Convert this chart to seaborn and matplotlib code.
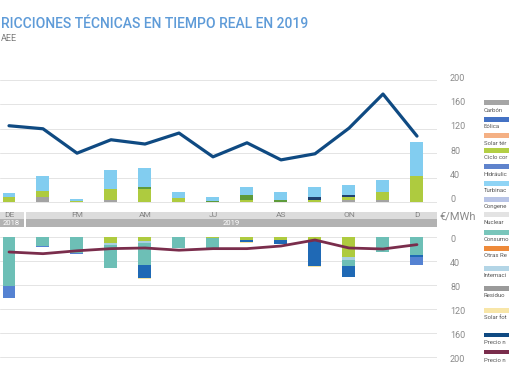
import matplotlib
matplotlib.use("Agg")
import matplotlib.pyplot as plt
import matplotlib.transforms as mtransforms
from matplotlib.patches import Rectangle
import numpy as np
import seaborn as sns

# periodo: diciembre 2018 a diciembre 2019
meses = ["D", "E", "F", "M", "A", "M", "J", "J", "A", "S", "O", "N", "D"]
etiquetas = ["DE", "", "FM", "", "AM", "", "JJ", "", "AS", "", "ON", "", "D"]

# energia a subir (apilado de abajo a arriba)
subir_carbon = [0, 7.6, 0, 3.8, 0, 0, 0, 0, 0, 0, 2.7, 3.8, 0]
subir_ciclo = [7.7, 11, 1.6, 17.5, 20.8, 6.6, 0, 3.8, 0, 3.3, 5.5, 12.6, 42.6]
subir_verde_osc = [0, 0, 0, 0, 3.8, 0, 2.2, 8.2, 3.8, 0, 0, 0, 0]
subir_eolica = [0, 0, 0, 0, 0, 0, 0, 0, 0, 4.9, 3.8, 0, 0]
subir_turbinacion = [7, 23.5, 3.8, 31.7, 31.7, 9.3, 6, 13, 13, 16.4, 16.4, 19, 55.7]

# energia a bajar (apilado de 0 hacia abajo)
bajar_ciclo = [0, 0, 0, 10, 7.2, 0, 1, 4.4, 5.5, 5.5, 33, 0, 0]
bajar_intercon = [0, 0, 0, 3, 2.8, 0, 0, 0, 0, 0, 5.5, 0, 0]
bajar_consumo = [81.7, 15.5, 26.7, 38.7, 36, 18.3, 17.3, 0, 0, 0, 10, 25, 30.5]
bajar_eolica = [0, 0, 0, 0, 22, 0, 0, 4, 5.5, 43, 17.8, 0, 2.8]
bajar_hidraulica = [19.4, 0.8, 2.2, 0, 0, 0, 0, 0, 0, 0, 0, 0, 12.8]
bajar_solar_fv = [0, 0, 0, 0, 1.7, 0, 0, 2, 1, 1.7, 0, 0, 0]

precio_subir = [125, 120, 80, 102, 95, 113, 74, 97, 69, 79, 121, 177, 108]
precio_bajar = [25, 27.8, 23, 19.4, 18.3, 22, 19.4, 19.4, 15, 5, 18.3, 20, 12.7]

# textos de la leyenda tal como se ven (cortados por el borde derecho)
leyenda_nombres = ["Carbón", "Eólica", "Solar tér", "Ciclo cor", "Hidráulic",
                   "Turbinac", "Congene", "Nuclear", "Consumo",
                   "Otras Re", "Internaci", "Residuo", "Solar fot"]
leyenda_colores = ["#A5A5A5", "#4472C4", "#F4B084", "#B3CF45", "#5F83CC", "#8FD4F5",
                   "#B8C4E6", "#E3E3E3", "#79C6BB", "#EE8A3A", "#B3D5E6", "#9A9A9A", "#F8E6A8"]
lineas_nombres = ["Precio n", "Precio n"]

NAVY = "#0F4A82"
GRANATE = "#7A2D4C"

sns.set_theme(style="white")
plt.rcParams["font.family"] = ["Roboto", "DejaVu Sans"]

W, H = 510, 382
fig = plt.figure(figsize=(W / 100, H / 100), dpi=100)


def caja(x0, y0, x1, y1):
    # pixeles -> fraccion de figura
    return [x0 / W, 1 - y1 / H, (x1 - x0) / W, (y1 - y0) / H]


idx = np.arange(len(meses))
xlim = (-9 / 34, (437 - 9) / 34)
ancho = 13 / 34


def apilar(ax, capas):
    # se dibuja de la suma total hacia abajo para que cada capa tape a la anterior
    cum = np.cumsum([np.array(v, dtype=float) for v, c in capas], axis=0)
    for k in range(len(capas) - 1, -1, -1):
        sns.barplot(x=idx, y=cum[k], color=capas[k][1], width=ancho, saturation=1,
                    errorbar=None, ax=ax, linewidth=0)


def estilo(ax, ticks, dy):
    ax.set_xlim(*xlim)
    for s in ax.spines.values():
        s.set_visible(False)
    ax.set_yticks(ticks)
    ax.yaxis.tick_right()
    ax.tick_params(axis="y", length=0, pad=9.4, labelsize=6.5, labelcolor="#8A8A8A")
    ax.tick_params(axis="x", bottom=False, labelbottom=False)
    ax.grid(axis="y", color="#E4E4E4", linewidth=0.7)
    ax.set_axisbelow(True)
    ax.set_xlabel("")
    ax.set_ylabel("")
    off = mtransforms.ScaledTranslation(0, dy / 100, fig.dpi_scale_trans)
    for lab in ax.get_yticklabels():
        lab.set_transform(lab.get_transform() + off)


# --- panel superior: subir ---
ax1 = fig.add_axes(caja(0, 60.5, 437, 205))
apilar(ax1, [(subir_carbon, "#A3A3A3"), (subir_ciclo, "#AECB3F"),
             (subir_verde_osc, "#5E9B3A"), (subir_eolica, "#1F416F"),
             (subir_turbinacion, "#82CDF0")])
sns.lineplot(x=idx, y=precio_subir, color=NAVY, linewidth=2.3, ax=ax1)
ax1.set_ylim(-5, 232)
estilo(ax1, [0, 40, 80, 120, 160, 200], 3)

# --- banda de meses ---
axb = fig.add_axes(caja(0, 211.5, 437, 227))
axb.set_xlim(*xlim)
axb.set_ylim(0, 1)
axb.axis("off")
corte = 8 / 15.5
tramos = [(xlim[0], 0.44, "2018"), (0.50, xlim[1], "2019")]
for a, b, anio in tramos:
    axb.add_patch(Rectangle((a, corte), b - a, 1 - corte, color="#DCDCDC", lw=0))
    axb.add_patch(Rectangle((a, 0), b - a, corte, color="#B2B2B2", lw=0))
    axb.text((a + b) / 2 if anio == "2019" else 0.05, corte / 2, anio, color="white",
             fontsize=5.5, ha="center", va="center")
for i, t in enumerate(etiquetas):
    if t:
        axb.text(i, (1 + corte) / 2, t, color="#858585", fontsize=6,
                 ha="center", va="center")

# --- panel inferior: bajar ---
ax2 = fig.add_axes(caja(0, 234, 437, 381))
apilar(ax2, [(bajar_ciclo, "#AECB3F"), (bajar_intercon, "#A9CFE0"),
             (bajar_consumo, "#6DBFB6"), (bajar_eolica, "#1F69B5"),
             (bajar_hidraulica, "#5582D2"), (bajar_solar_fv, "#F3E3A3")])
sns.lineplot(x=idx, y=precio_bajar, color=GRANATE, linewidth=2.0, ax=ax2)
ax2.set_ylim(240, -5)
estilo(ax2, [0, 40, 80, 120, 160, 200], -1.5)

fig.text(458 / W, 1 - 217 / H, "€/MWh", fontsize=8, color="#8A8A8A",
         ha="center", va="center")

# --- titulo, tal como se ve en el recorte ---
fig.text(1 / W, 1 - 24.5 / H, "RICCIONES TÉCNICAS EN TIEMPO REAL EN 2019",
         fontsize=10, fontweight="medium", color="#5E9BD8", va="center")
fig.text(1 / W, 1 - 38.5 / H, "AEE", fontsize=6.5, color="#7A7A7A", va="center")

# --- leyenda manual a la derecha ---
ley_y = [102.7, 119, 136, 150, 167, 183, 199, 215, 232, 248, 268, 288, 310]
for nombre, color, y in zip(leyenda_nombres, leyenda_colores, ley_y):
    fig.patches.append(Rectangle((484 / W, 1 - (y + 2.5) / H), 40 / W, 5 / H,
                                 transform=fig.transFigure, color=color, lw=0))
    fig.text(484 / W, 1 - (y + 7.5) / H, nombre, fontsize=4.3, color="#555555",
             va="center")
for nombre, color, y in zip(lineas_nombres, [NAVY, GRANATE], [335, 352]):
    fig.patches.append(Rectangle((484 / W, 1 - (y + 1.8) / H), 40 / W, 3.6 / H,
                                 transform=fig.transFigure, color=color, lw=0))
    fig.text(484 / W, 1 - (y + 8) / H, nombre, fontsize=4.3, color="#555555",
             va="center")

fig.savefig("out.png", dpi=100)
